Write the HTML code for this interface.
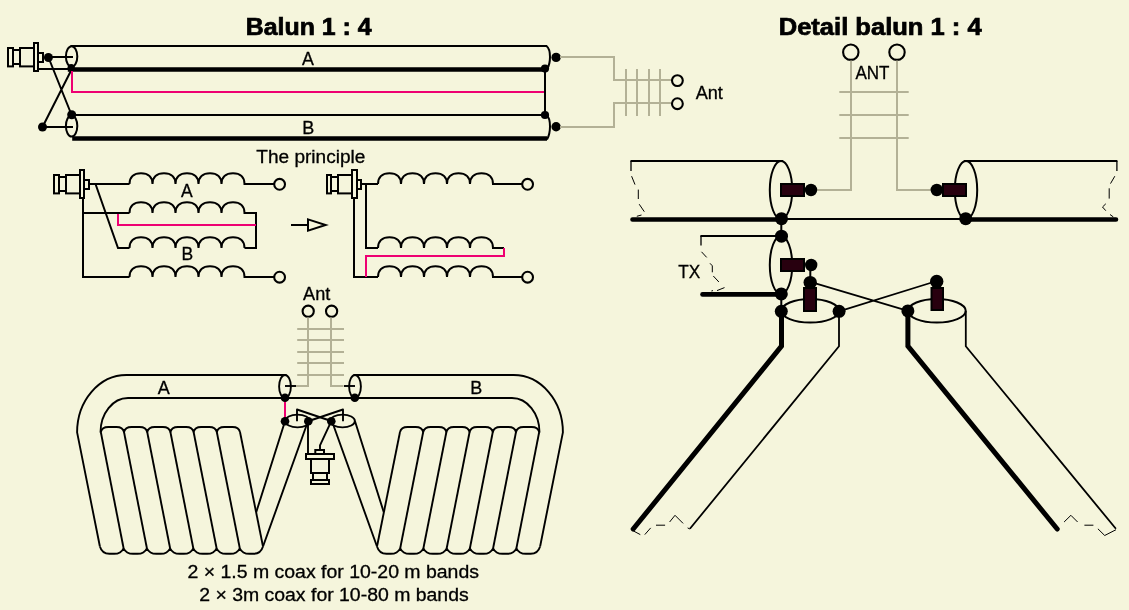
<!DOCTYPE html>
<html><head><meta charset="utf-8"><title>Balun 1:4</title>
<style>
html,body{margin:0;padding:0;background:#f5f5dc;}
body{width:1129px;height:610px;overflow:hidden;}
svg{display:block;will-change:transform;}
text{font-family:"Liberation Sans",sans-serif;fill:#000;}
</style></head><body>
<svg width="1129" height="610" viewBox="0 0 1129 610">
<rect width="1129" height="610" fill="#f5f5dc"/>
<!-- coax pair -->
<text x="245.8" y="34.8" font-size="23" font-weight="bold" text-anchor="start" stroke="#000" stroke-width="0.7" textLength="125.7" lengthAdjust="spacingAndGlyphs">Balun 1 : 4</text>
<g fill="none" stroke="#000" stroke-width="2">
<path d="M70.5 46 H546.5 C549 48 550 51 550 57 C550 63 549 66 547 69.5"/>
<ellipse cx="71.6" cy="56.5" rx="5.7" ry="10.3"/>
<path d="M48.5 57 H73 M38 69 H70"/>
<path d="M48.5 57.5 L71.6 115 M42.5 127 L71.6 69.5"/>
<path d="M70.5 115 H546.5 C549 117 550 120 550 126.5 C550 133 549 136 547 139.5"/>
<ellipse cx="71.6" cy="126" rx="5.7" ry="10.6"/>
<path d="M42.5 127 H73"/>
<path d="M545 69 V115"/>
</g>
<path d="M67.8 69.5 H545 M72.2 138.5 H547" fill="none" stroke="#000" stroke-width="4.6"/>
<path d="M72 71 V92 H544" fill="none" stroke="#ee0072" stroke-width="2"/>
<circle cx="48.4" cy="57.5" r="4.5" fill="#000"/>
<circle cx="42.5" cy="127" r="4.5" fill="#000"/>
<circle cx="71.7" cy="114.7" r="4.5" fill="#000"/>
<circle cx="71.2" cy="67.5" r="3.6" fill="#000"/>
<circle cx="545" cy="68.6" r="4.1" fill="#000"/>
<circle cx="545" cy="115" r="4.1" fill="#000"/>
<circle cx="556.1" cy="57.4" r="4.7" fill="#000"/>
<circle cx="556.1" cy="126.7" r="4.7" fill="#000"/>
<g fill="none" stroke="#000" stroke-width="2" stroke-linejoin="miter"><rect x="8" y="48" width="5" height="18.4"/><path d="M13 50 H20 M13 64 H20"/><rect x="20" y="48" width="14" height="18.4"/><rect x="34" y="43" width="4" height="28"/><rect x="38" y="53" width="5" height="9"/></g>
<g fill="none" stroke="#b3b196" stroke-width="2">
<path d="M560 57 H614 V80 H672 M560 127 H614 V103 H672"/>
<path d="M626 69 V116 M637 69 V116 M649 69 V116 M660 69 V116"/>
</g>
<circle cx="677.4" cy="80.6" r="5.4" fill="none" stroke="#000" stroke-width="2.1"/>
<circle cx="677.4" cy="103.7" r="5.4" fill="none" stroke="#000" stroke-width="2.1"/>
<text x="695.7" y="98.5" font-size="17.5" font-weight="normal" text-anchor="start" stroke="#000" stroke-width="0.3" textLength="27.2" lengthAdjust="spacingAndGlyphs">Ant</text>
<text x="308" y="64.5" font-size="17.8" font-weight="normal" text-anchor="middle" stroke="#000" stroke-width="0.3">A</text>
<text x="308.2" y="133.7" font-size="18" font-weight="normal" text-anchor="middle" stroke="#000" stroke-width="0.3">B</text>
<!-- principle -->
<text x="256.3" y="162.7" font-size="17.5" font-weight="normal" text-anchor="start" stroke="#000" stroke-width="0.3" textLength="109" lengthAdjust="spacingAndGlyphs">The principle</text>
<g fill="none" stroke="#000" stroke-width="2" stroke-linejoin="miter"><rect x="54" y="175" width="5" height="18.4"/><path d="M59 177 H66 M59 191 H66"/><rect x="66" y="175" width="14" height="18.4"/><rect x="80" y="170" width="4" height="28"/><rect x="84" y="180" width="5" height="9"/></g>
<g fill="none" stroke="#000" stroke-width="2" stroke-linejoin="miter">
<path d="M89 184 H129.5"/>
<path d="M129.5 184 c0 -6.80 4.25 -10.80 11.50 -10.80 c7.25 0 11.50 4.00 11.50 10.80 c0 -6.80 4.25 -10.80 11.50 -10.80 c7.25 0 11.50 4.00 11.50 10.80 c0 -6.80 4.25 -10.80 11.50 -10.80 c7.25 0 11.50 4.00 11.50 10.80 c0 -6.80 4.25 -10.80 11.50 -10.80 c7.25 0 11.50 4.00 11.50 10.80 c0 -6.80 4.25 -10.80 11.50 -10.80 c7.25 0 11.50 4.00 11.50 10.80 H274"/>
<path d="M83 198 V277 H129.5"/>
<path d="M129.5 277 c0 -6.80 4.25 -10.80 11.50 -10.80 c7.25 0 11.50 4.00 11.50 10.80 c0 -6.80 4.25 -10.80 11.50 -10.80 c7.25 0 11.50 4.00 11.50 10.80 c0 -6.80 4.25 -10.80 11.50 -10.80 c7.25 0 11.50 4.00 11.50 10.80 c0 -6.80 4.25 -10.80 11.50 -10.80 c7.25 0 11.50 4.00 11.50 10.80 c0 -6.80 4.25 -10.80 11.50 -10.80 c7.25 0 11.50 4.00 11.50 10.80 H274"/>
<path d="M83 213 H129.5"/>
<path d="M129.5 213 c0 -6.80 4.25 -10.80 11.50 -10.80 c7.25 0 11.50 4.00 11.50 10.80 c0 -6.80 4.25 -10.80 11.50 -10.80 c7.25 0 11.50 4.00 11.50 10.80 c0 -6.80 4.25 -10.80 11.50 -10.80 c7.25 0 11.50 4.00 11.50 10.80 c0 -6.80 4.25 -10.80 11.50 -10.80 c7.25 0 11.50 4.00 11.50 10.80 c0 -6.80 4.25 -10.80 11.50 -10.80 c7.25 0 11.50 4.00 11.50 10.80 H256 V248 H244.5"/>
<path d="M95.5 184 L118 248 H129.5"/>
<path d="M129.5 248 c0 -6.80 4.25 -10.80 11.50 -10.80 c7.25 0 11.50 4.00 11.50 10.80 c0 -6.80 4.25 -10.80 11.50 -10.80 c7.25 0 11.50 4.00 11.50 10.80 c0 -6.80 4.25 -10.80 11.50 -10.80 c7.25 0 11.50 4.00 11.50 10.80 c0 -6.80 4.25 -10.80 11.50 -10.80 c7.25 0 11.50 4.00 11.50 10.80 c0 -6.80 4.25 -10.80 11.50 -10.80 c7.25 0 11.50 4.00 11.50 10.80"/>
<path d="M291 225 H308 M308 219.4 L325.6 225 L308 230.6 Z"/>
<path d="M361 184 H378"/>
<path d="M378 184 c0 -6.80 4.25 -10.80 11.50 -10.80 c7.25 0 11.50 4.00 11.50 10.80 c0 -6.80 4.25 -10.80 11.50 -10.80 c7.25 0 11.50 4.00 11.50 10.80 c0 -6.80 4.25 -10.80 11.50 -10.80 c7.25 0 11.50 4.00 11.50 10.80 c0 -6.80 4.25 -10.80 11.50 -10.80 c7.25 0 11.50 4.00 11.50 10.80 c0 -6.80 4.25 -10.80 11.50 -10.80 c7.25 0 11.50 4.00 11.50 10.80 H522"/>
<path d="M366 184 V248 H378"/>
<path d="M378 248 c0 -6.80 4.25 -10.80 11.50 -10.80 c7.25 0 11.50 4.00 11.50 10.80 c0 -6.80 4.25 -10.80 11.50 -10.80 c7.25 0 11.50 4.00 11.50 10.80 c0 -6.80 4.25 -10.80 11.50 -10.80 c7.25 0 11.50 4.00 11.50 10.80 c0 -6.80 4.25 -10.80 11.50 -10.80 c7.25 0 11.50 4.00 11.50 10.80 c0 -6.80 4.25 -10.80 11.50 -10.80 c7.25 0 11.50 4.00 11.50 10.80 H504"/>
<path d="M354 198 V277 H378"/>
<path d="M378 277 c0 -6.80 4.25 -10.80 11.50 -10.80 c7.25 0 11.50 4.00 11.50 10.80 c0 -6.80 4.25 -10.80 11.50 -10.80 c7.25 0 11.50 4.00 11.50 10.80 c0 -6.80 4.25 -10.80 11.50 -10.80 c7.25 0 11.50 4.00 11.50 10.80 c0 -6.80 4.25 -10.80 11.50 -10.80 c7.25 0 11.50 4.00 11.50 10.80 c0 -6.80 4.25 -10.80 11.50 -10.80 c7.25 0 11.50 4.00 11.50 10.80 H522"/>
</g>
<path d="M118 214 V225 H256" fill="none" stroke="#ee0072" stroke-width="2"/>
<path d="M504 248 V256 H366 V277" fill="none" stroke="#ee0072" stroke-width="2"/>
<circle cx="279.6" cy="184.3" r="5.4" fill="none" stroke="#000" stroke-width="2.1"/>
<circle cx="279.6" cy="277.2" r="5.4" fill="none" stroke="#000" stroke-width="2.1"/>
<circle cx="527.6" cy="184.3" r="5.4" fill="none" stroke="#000" stroke-width="2.1"/>
<circle cx="527.6" cy="277.2" r="5.4" fill="none" stroke="#000" stroke-width="2.1"/>
<g fill="none" stroke="#000" stroke-width="2" stroke-linejoin="miter"><rect x="327" y="175" width="4" height="18.4"/><path d="M331 177 H338 M331 191 H338"/><rect x="338" y="175" width="14" height="18.4"/><rect x="352" y="170" width="5" height="28"/><rect x="357" y="180" width="4" height="9"/></g>
<text x="186.8" y="197.4" font-size="17.5" font-weight="normal" text-anchor="middle" stroke="#000" stroke-width="0.3">A</text>
<text x="187.3" y="260.4" font-size="17.5" font-weight="normal" text-anchor="middle" stroke="#000" stroke-width="0.3">B</text>
<!-- coil -->
<text x="303.1" y="299.8" font-size="17.5" font-weight="normal" text-anchor="start" stroke="#000" stroke-width="0.3" textLength="27.2" lengthAdjust="spacingAndGlyphs">Ant</text>
<circle cx="308.2" cy="311.2" r="5.6" fill="none" stroke="#000" stroke-width="2.1"/>
<circle cx="331.6" cy="311.2" r="5.6" fill="none" stroke="#000" stroke-width="2.1"/>
<g fill="none" stroke="#b3b196" stroke-width="2">
<path d="M308 317.5 V386 H296 M331 317.5 V386 H343.5"/>
<path d="M297.2 329 H344"/>
<path d="M297.2 340 H344"/>
<path d="M297.2 352 H344"/>
<path d="M297.2 363 H344"/>
<path d="M297.2 375 H344"/>
</g>
<g fill="none" stroke="#000" stroke-width="1.9" stroke-linejoin="round">
<g><path d="M286.5 375 H126.4 A49.3 57.4 0 0 0 77.1 432.4 L99.9 546.5"/><path d="M128 398 A27.5 34.4 0 0 0 100.5 432.4"/><path d="M100.8 432 C101.6 428.6 104.3 427 108.3 427 H116.5 C120.5 427 123.2 428.6 124.0 432 C124.8 428.6 127.5 427 131.5 427 H139.7 C143.7 427 146.4 428.6 147.2 432 C148.0 428.6 150.7 427 154.7 427 H162.9 C166.9 427 169.6 428.6 170.4 432 C171.2 428.6 173.9 427 177.9 427 H186.1 C190.1 427 192.8 428.6 193.6 432 C194.4 428.6 197.1 427 201.1 427 H209.3 C213.3 427 216.0 428.6 216.8 432 C217.6 428.6 220.3 427 224.3 427 H232.5 C236.5 427 239.2 428.6 240.0 432"/><path d="M99.9 546.5 C101.4 551.5 104.9 553.8 109.4 553.8 H114.1 C118.6 553.8 122.1 551.5 123.6 548.3 M123.6 548.3 C125.1 551.5 128.6 553.8 133.1 553.8 H137.4 C141.9 553.8 145.4 551.5 146.9 548.3 M146.9 548.3 C148.4 551.5 151.9 553.8 156.4 553.8 H160.6 C165.1 553.8 168.6 551.5 170.1 548.3 M170.1 548.3 C171.6 551.5 175.1 553.8 179.6 553.8 H183.8 C188.3 553.8 191.8 551.5 193.3 548.3 M193.3 548.3 C194.8 551.5 198.3 553.8 202.8 553.8 H207.1 C211.6 553.8 215.1 551.5 216.6 548.3 M216.6 548.3 C218.1 551.5 221.6 553.8 226.1 553.8 H230.3 C234.8 553.8 238.3 551.5 239.8 548.3 M239.8 548.3 C241.3 551.5 244.8 553.8 249.3 553.8 H253.5 C258.0 553.8 261.5 551.5 263.0 546.5"/><path d="M100.8 432 L123.6 548.3"/><path d="M124.0 432 L146.9 548.3"/><path d="M147.2 432 L170.1 548.3"/><path d="M170.4 432 L193.3 548.3"/><path d="M193.6 432 L216.6 548.3"/><path d="M216.8 432 L239.8 548.3"/><path d="M240.0 432 L263.0 546.5"/><path d="M263 546.5 L308 421.3 M256.3 512 L285 421.3"/><ellipse cx="285" cy="386.5" rx="5.9" ry="11.5"/><ellipse cx="297.5" cy="421" rx="12.4" ry="6.4"/><path d="M285 386 H296"/><path d="M297 421.3 V409.5 L331.2 421"/></g>
<g transform="translate(640,0) scale(-1,1)"><path d="M286.5 375 H126.4 A49.3 57.4 0 0 0 77.1 432.4 L99.9 546.5"/><path d="M128 398 A27.5 34.4 0 0 0 100.5 432.4"/><path d="M100.8 432 C101.6 428.6 104.3 427 108.3 427 H116.5 C120.5 427 123.2 428.6 124.0 432 C124.8 428.6 127.5 427 131.5 427 H139.7 C143.7 427 146.4 428.6 147.2 432 C148.0 428.6 150.7 427 154.7 427 H162.9 C166.9 427 169.6 428.6 170.4 432 C171.2 428.6 173.9 427 177.9 427 H186.1 C190.1 427 192.8 428.6 193.6 432 C194.4 428.6 197.1 427 201.1 427 H209.3 C213.3 427 216.0 428.6 216.8 432 C217.6 428.6 220.3 427 224.3 427 H232.5 C236.5 427 239.2 428.6 240.0 432"/><path d="M99.9 546.5 C101.4 551.5 104.9 553.8 109.4 553.8 H114.1 C118.6 553.8 122.1 551.5 123.6 548.3 M123.6 548.3 C125.1 551.5 128.6 553.8 133.1 553.8 H137.4 C141.9 553.8 145.4 551.5 146.9 548.3 M146.9 548.3 C148.4 551.5 151.9 553.8 156.4 553.8 H160.6 C165.1 553.8 168.6 551.5 170.1 548.3 M170.1 548.3 C171.6 551.5 175.1 553.8 179.6 553.8 H183.8 C188.3 553.8 191.8 551.5 193.3 548.3 M193.3 548.3 C194.8 551.5 198.3 553.8 202.8 553.8 H207.1 C211.6 553.8 215.1 551.5 216.6 548.3 M216.6 548.3 C218.1 551.5 221.6 553.8 226.1 553.8 H230.3 C234.8 553.8 238.3 551.5 239.8 548.3 M239.8 548.3 C241.3 551.5 244.8 553.8 249.3 553.8 H253.5 C258.0 553.8 261.5 551.5 263.0 546.5"/><path d="M100.8 432 L123.6 548.3"/><path d="M124.0 432 L146.9 548.3"/><path d="M147.2 432 L170.1 548.3"/><path d="M170.4 432 L193.3 548.3"/><path d="M193.6 432 L216.6 548.3"/><path d="M216.8 432 L239.8 548.3"/><path d="M240.0 432 L263.0 546.5"/><path d="M263 546.5 L308 421.3 M256.3 512 L285 421.3"/><ellipse cx="285" cy="386.5" rx="5.9" ry="11.5"/><ellipse cx="297.5" cy="421" rx="12.4" ry="6.4"/><path d="M285 386 H296"/><path d="M297 421.3 V409.5 L331.2 421"/></g>
<path d="M128 398 H512" stroke-width="2"/>
<path d="M308 421.3 V454 M331.2 421.3 L320 445.4 V450"/>
</g>
<path d="M285 398 V418" fill="none" stroke="#ee0072" stroke-width="2"/>
<circle cx="285" cy="397.8" r="4.3" fill="#000"/>
<circle cx="354.8" cy="397.8" r="4.3" fill="#000"/>
<circle cx="285" cy="421.3" r="4.3" fill="#000"/>
<circle cx="308.3" cy="421.3" r="4.3" fill="#000"/>
<circle cx="331.3" cy="421.3" r="4.3" fill="#000"/>
<g fill="none" stroke="#000" stroke-width="2" stroke-linejoin="miter"><rect x="315.3" y="450" width="8.7" height="4"/><rect x="306" y="454" width="28" height="5"/><rect x="311" y="459" width="18" height="14"/><path d="M313 473 V480 M327 473 V480"/><rect x="311" y="480" width="18" height="4"/></g>
<text x="163.7" y="393.7" font-size="18" font-weight="normal" text-anchor="middle" stroke="#000" stroke-width="0.3">A</text>
<text x="476.2" y="393.7" font-size="18" font-weight="normal" text-anchor="middle" stroke="#000" stroke-width="0.3">B</text>
<text x="187.5" y="577.8" font-size="17.5" font-weight="normal" text-anchor="start" stroke="#000" stroke-width="0.3" textLength="291.5" lengthAdjust="spacingAndGlyphs">2 × 1.5 m coax for 10-20 m bands</text>
<text x="199.2" y="600.9" font-size="17.5" font-weight="normal" text-anchor="start" stroke="#000" stroke-width="0.3" textLength="269.5" lengthAdjust="spacingAndGlyphs">2 × 3m coax for 10-80 m bands</text>
<!-- detail -->
<text x="778.7" y="34.7" font-size="23" font-weight="bold" text-anchor="start" stroke="#000" stroke-width="0.7" textLength="203" lengthAdjust="spacingAndGlyphs">Detail balun 1 : 4</text>
<circle cx="850.8" cy="52.2" r="7.7" fill="none" stroke="#000" stroke-width="2.1"/>
<circle cx="897" cy="52.2" r="7.7" fill="none" stroke="#000" stroke-width="2.1"/>
<text x="855.5" y="78.9" font-size="17.5" font-weight="normal" text-anchor="start" stroke="#000" stroke-width="0.3" textLength="34" lengthAdjust="spacingAndGlyphs">ANT</text>
<g fill="none" stroke="#b3b196" stroke-width="2">
<path d="M851 60.5 V190 H815 M897 60.5 V190 H932"/>
<path d="M839.3 92 H908.7"/>
<path d="M839.3 115 H908.7"/>
<path d="M839.3 138 H908.7"/>
</g>
<g fill="none" stroke="#000" stroke-width="2">
<path d="M630.5 161 H783"/>
<ellipse cx="781" cy="190" rx="11.2" ry="29"/>
<path d="M781.5 219 H965.7"/>
<path d="M964 161 H1117.4"/>
<ellipse cx="966" cy="190" rx="11.2" ry="29"/>
<path d="M700.4 236 H781.4"/>
<ellipse cx="781" cy="265" rx="11.2" ry="29"/>
<path d="M781.3 219 V236 M781.3 294 V311.5"/>
<path d="M810.3 265 V282"/>
<ellipse cx="810.2" cy="310.8" rx="28.9" ry="11.8"/>
<ellipse cx="936.8" cy="310.8" rx="28.9" ry="11.8"/>
</g>
<g fill="none" stroke="#000" stroke-width="1.8">
<path d="M810.4 281.8 L907.9 310.8 M936.7 281 L839 311.4"/>
<path d="M839 311.6 V346.2 L689.9 528.8 M965.8 311 V346.2 L1115.9 528.8"/>
</g>
<g fill="none" stroke="#000" stroke-width="4.6" stroke-linecap="round" stroke-linejoin="miter">
<path d="M632.5 219.5 H781.6 M965.7 219.5 H1116"/>
<path d="M702.5 294.4 H781.4"/>
</g>
<g fill="none" stroke="#000" stroke-width="5" stroke-linecap="round" stroke-linejoin="miter">
<path d="M781.5 311.6 V346.2 L633.2 529 M907.9 311 V346.2 L1057.2 529"/>
</g>
<g fill="none" stroke="#000" stroke-width="1">
<path d="M631 161 V171 M1116.9 161 V171 M701 236 V245.5" stroke-width="1.3"/>
<path d="M631.6 176.2 L635 184.6 M638.3 189.6 V199 M639.2 204.2 L644.3 211.7 M636.8 216.3 L641.5 215"/>
<path d="M1114.8 176.2 L1110.5 183.6 M1109.2 188.3 V198.6 M1105.8 203.8 L1102.5 207 L1105.8 210.7 M1110 214.5 L1113.3 216.9"/>
<path d="M701.5 251.8 L706.7 257.4 M710 263.3 L712.3 265.8 V272.3 M713.3 276 L718.9 282 M724.5 287.6 L717 290.6 M711.4 291 L713 290.6"/>
<path d="M633.5 531 L640.3 534.6 M644.8 534.6 L650.7 527.9 M656 525.2 H665.1 M669.6 522 L675 515.3 L683.1 523.4 M687.6 527.9 L689.9 529"/>
<path d="M1064.1 522 L1070.9 515.3 L1077.6 522 M1084.4 525.2 H1093.4 M1097.9 528.8 L1104.7 535.5 L1116 529.7"/>
</g>
<rect x="781" y="184" width="23" height="12" fill="#28000f" stroke="#000" stroke-width="2"/>
<rect x="943" y="184" width="23" height="12" fill="#28000f" stroke="#000" stroke-width="2"/>
<rect x="781" y="259" width="23" height="12" fill="#28000f" stroke="#000" stroke-width="2"/>
<rect x="804" y="288" width="12" height="23" fill="#28000f" stroke="#000" stroke-width="2"/>
<rect x="931.5" y="288" width="11.5" height="22" fill="#28000f" stroke="#000" stroke-width="2"/>
<circle cx="811" cy="190" r="6.2" fill="#000"/>
<circle cx="936.8" cy="190" r="6.2" fill="#000"/>
<circle cx="811.2" cy="265" r="6.2" fill="#000"/>
<circle cx="810.2" cy="282.6" r="6.7" fill="#000"/>
<circle cx="936.7" cy="281.4" r="6.7" fill="#000"/>
<circle cx="781.5" cy="218.7" r="6.5" fill="#000"/>
<circle cx="965.7" cy="218.7" r="6.5" fill="#000"/>
<circle cx="781.5" cy="236.2" r="6.5" fill="#000"/>
<circle cx="781.3" cy="293.9" r="6.5" fill="#000"/>
<circle cx="781.3" cy="311.3" r="6.5" fill="#000"/>
<circle cx="839.1" cy="311.3" r="6.5" fill="#000"/>
<circle cx="907.9" cy="310.9" r="6.5" fill="#000"/>
<text x="678.3" y="277.5" font-size="17.5" font-weight="normal" text-anchor="start" stroke="#000" stroke-width="0.3" textLength="22" lengthAdjust="spacingAndGlyphs">TX</text>
</svg>
</body></html>
